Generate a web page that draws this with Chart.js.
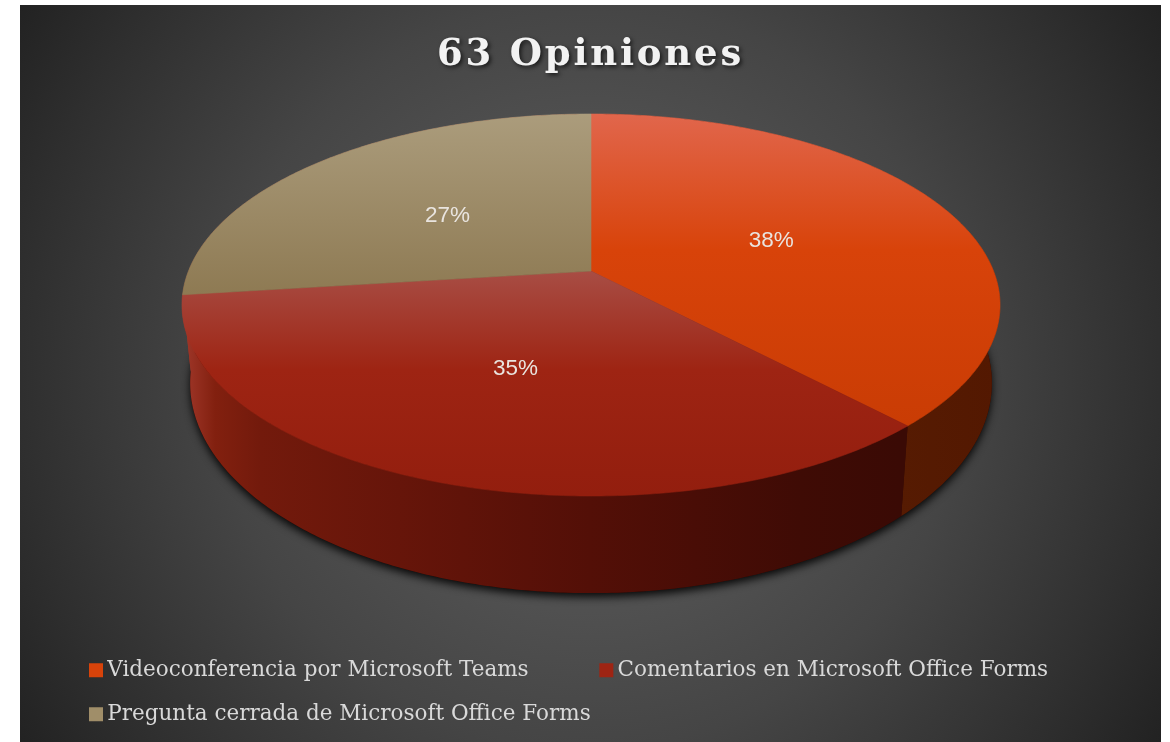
<!DOCTYPE html>
<html>
<head>
<meta charset="utf-8">
<title>63 Opiniones</title>
<script src="https://cdn.jsdelivr.net/npm/chart.js@4/dist/chart.umd.min.js"></script>
<style>
	html, body {margin: 0; padding: 0; background: #fff;}
	#chart-wrap {width: 1170px; height: 742px;}
</style>
</head>
<body>
<div id="chart-wrap"><canvas id="opinions-chart" width="1170" height="742"></canvas></div>
<script>
var categories = ['Videoconferencia por Microsoft Teams', 'Comentarios en Microsoft Office Forms', 'Pregunta cerrada de Microsoft Office Forms'];
var values     = [38, 35, 27];
var chartTitle = '63 Opiniones';

var legendColors = ['#d8430a', '#9e2413', '#a08e69'];
var topStops = [
	[[114, '#e1664c'], [250, '#d8430a'], [430, '#c93c04']],
	[[271, '#a84d44'], [370, '#9e2413'], [496, '#931e0e']],
	[[114, '#ab9c7c'], [294, '#8e7a53']]
];
var wallStops = [
	[[898, '#561b02'], [1000, '#531801']],
	[[188, '#9c3426'], [215, '#82200f'], [260, '#731a0c'], [400, '#66150a'], [590, '#530f07'], [800, '#3f0b05'], [900, '#3a0a05']],
	[[170, '#9c3426'], [600, '#9c3426']]
];

// Projection of the flat pie on the tilted disc (apex at 591,271)
function projectTop(angle, r) {
	var u = Math.cos(angle) * r, v = Math.sin(angle) * r;
	var d = 1 - 0.178 * v;
	return {x: 591 + 402.5 * u / d, y: (271 + 136.7 * v) / d};
}

function projectBottom(angle) {
	var p = projectTop(angle, 1);
	return {x: 591 + (p.x - 591) * 0.98, y: 383 + (p.y - 305) * 1.1};
}

function linearFill(ctx, stops, horizontal) {
	var first = stops[0][0], last = stops[stops.length - 1][0];
	var grad  = horizontal ? ctx.createLinearGradient(first, 0, last, 0) : ctx.createLinearGradient(0, first, 0, last);
	stops.forEach(function(s) {grad.addColorStop((s[0] - first) / (last - first), s[1]);});
	return grad;
}

function traceArc(ctx, fn, start, end, isFirst) {
	var steps = Math.max(2, Math.ceil(Math.abs(end - start) * 90));
	for (var ct = 0; ct <= steps; ct++) {
		var p = fn(start + (end - start) * ct / steps, 1);
		if (ct == 0 && isFirst) {ctx.moveTo(p.x, p.y);}
		else {ctx.lineTo(p.x, p.y);}
	}
}

var panelPlugin = {
	id: 'panel',
	beforeDraw: function(chart) {
		var ctx = chart.ctx;
		var grad = ctx.createRadialGradient(590, 374, 0, 590, 374, 680);
		grad.addColorStop(0,    '#585858');
		grad.addColorStop(0.35, '#505050');
		grad.addColorStop(0.55, '#454545');
		grad.addColorStop(0.85, '#2e2e2e');
		grad.addColorStop(1,    '#222222');
		ctx.save();
		ctx.fillStyle = grad;
		ctx.fillRect(20, 5, 1141, 737);
		ctx.restore();
	},
	afterLayout: function(chart) {
		// Legend sits lower and further in than the box layout allows
		chart.legend.left = 73;
		chart.legend.top  = 637;
		var block = chart.titleBlock, ctx = chart.ctx;
		if (!block._shadowed) {
			var drawTitle = block.draw;
			block.draw = function() {
				ctx.save();
				ctx.shadowColor   = 'rgba(0,0,0,0.65)';
				ctx.shadowBlur    = 4;
				ctx.shadowOffsetX = 2;
				ctx.shadowOffsetY = 2;
				ctx.letterSpacing = '2.8px';
				drawTitle.apply(block, arguments);
				ctx.restore();
			};
			block._shadowed = true;
		}
	}
};

var tiltedPiePlugin = {
	id: 'tiltedPie',
	beforeDatasetsDraw: function(chart) {
		var ctx = chart.ctx;
		var arcs = chart.getDatasetMeta(0).data;
		ctx.save();

		// Shadow under the base
		ctx.save();
		ctx.shadowColor   = 'rgba(0,0,0,0.9)';
		ctx.shadowBlur    = 9;
		ctx.shadowOffsetY = 4;
		ctx.fillStyle = '#300800';
		ctx.beginPath();
		traceArc(ctx, projectBottom, 0, Math.PI * 2, true);
		ctx.closePath();
		ctx.fill();
		ctx.restore();

		// Walls, back to front
		[2, 0, 1].forEach(function(ct) {
			var arc = arcs[ct];
			ctx.fillStyle = linearFill(ctx, wallStops[ct], true);
			ctx.beginPath();
			traceArc(ctx, projectTop, arc.startAngle, arc.endAngle, true);
			traceArc(ctx, projectBottom, arc.endAngle, arc.startAngle, false);
			ctx.closePath();
			ctx.fill();
		});

		// Top surface, slices come from the chart's own arc elements
		arcs.forEach(function(arc, ct) {
			var apex = projectTop(0, 0);
			ctx.fillStyle = linearFill(ctx, topStops[ct], false);
			ctx.strokeStyle = ctx.fillStyle;
			ctx.lineWidth = 0.6;
			ctx.beginPath();
			ctx.moveTo(apex.x, apex.y);
			traceArc(ctx, projectTop, arc.startAngle, arc.endAngle, false);
			ctx.closePath();
			ctx.fill();
			ctx.stroke();
		});

		// Value labels
		ctx.fillStyle    = '#e9e4df';
		ctx.font         = '22.5px "Liberation Sans"';
		ctx.textAlign    = 'center';
		ctx.textBaseline = 'middle';
		arcs.forEach(function(arc, ct) {
			var p = projectTop((arc.startAngle + arc.endAngle) / 2, 0.5);
			ctx.fillText(values[ct] + '%', p.x - 1, p.y + 3);
		});
		ctx.restore();
		return false;
	}
};

new Chart(document.getElementById('opinions-chart').getContext('2d'), {
	type: 'pie',
	data: {
		labels: categories,
		datasets: [{data: values, backgroundColor: legendColors, borderWidth: 0}]
	},
	options: {
		responsive: false,
		animation:  false,
		devicePixelRatio: 1,
		layout: {padding: {left: 20, right: 9}},
		plugins: {
			tooltip: {enabled: false},
			title: {
				display: true,
				text:    chartTitle,
				color:   '#f2f2f2',
				font:    {family: '"DejaVu Serif"', size: 37, weight: 'bold'},
				padding: {top: 33, bottom: 0}
			},
			legend: {
				position: 'bottom',
				align:    'start',
				labels: {
					color:    '#d9d9d9',
					font:     {family: '"DejaVu Serif"', size: 21.5},
					padding:  22.5,
					boxWidth: 1,
					boxHeight: 1,
					generateLabels: function() {
						return categories.map(function(name, ct) {
							return {
								text:        ct == 0 ? name + '\u00a0\u00a0\u00a0\u00a0\u00a0\u00a0\u00a0\u00a0' : name,
								fillStyle:   legendColors[ct],
								strokeStyle: legendColors[ct],
								fontColor:   '#d9d9d9',
								lineWidth:   13,
								index:       ct
							};
						});
					}
				}
			}
		}
	},
	plugins: [panelPlugin, tiltedPiePlugin]
});
</script>
</body>
</html>
